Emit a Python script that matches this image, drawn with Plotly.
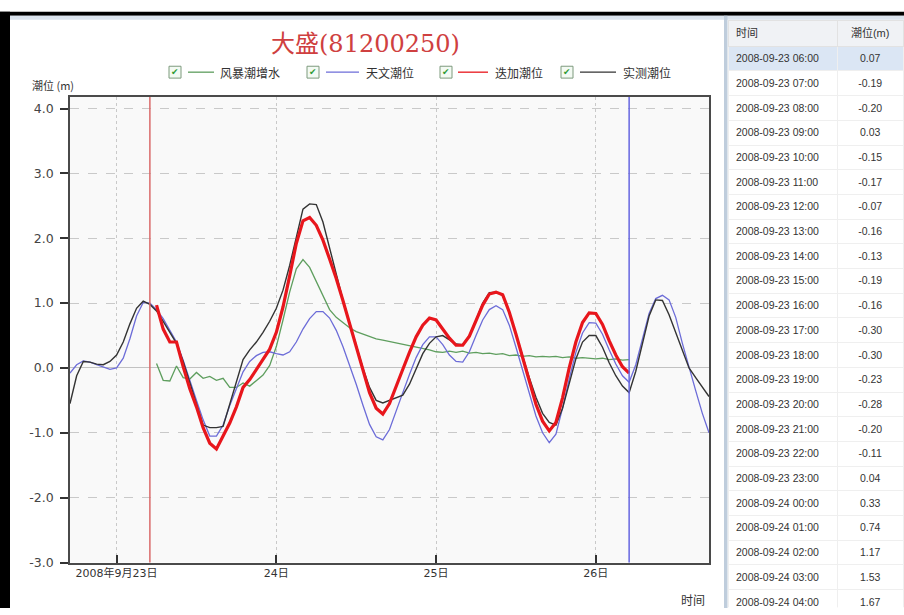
import pandas as pd
import plotly.graph_objects as go

# ---------------- data ----------------
title_text = "大盛(81200250)"
series_names = ["风暴潮增水", "天文潮位", "迭加潮位", "实测潮位"]
series_colors = ["#5e9e5e", "#6c6cd8", "#e8161c", "#333333"]

full_start = "2008-09-22 17:00"      # astronomical & measured series start (hourly)
surge_start = "2008-09-23 06:00"     # storm surge & combined series start (hourly)
period_start = "2008-09-23 05:00"    # red marker line
period_end = "2008-09-26 05:00"      # blue marker line

astro_tide = [
    -0.08, 0.05, 0.11, 0.09, 0.05, 0.01, -0.02,
    0.00, 0.15, 0.45, 0.80, 1.01, 1.00, 0.90, 0.76, 0.58, 0.40, 0.12, -0.20,
    -0.50, -0.80, -1.05, -1.05, -0.88, -0.58, -0.32, -0.06, 0.10, 0.19, 0.24, 0.25,
    0.22, 0.20, 0.25, 0.40, 0.60, 0.76, 0.87, 0.87, 0.77, 0.58, 0.33, 0.05,
    -0.25, -0.57, -0.87, -1.06, -1.11, -0.95, -0.68, -0.38, -0.10, 0.16, 0.36, 0.48,
    0.48, 0.36, 0.20, 0.10, 0.09, 0.25, 0.50, 0.74, 0.90, 0.96, 0.90, 0.66,
    0.32, -0.04, -0.40, -0.74, -1.00, -1.15, -1.02, -0.62, -0.17, 0.24, 0.54, 0.70,
    0.69, 0.52, 0.28, 0.06, -0.12, -0.22, 0.05, 0.45, 0.84, 1.07, 1.12, 1.05,
    0.78, 0.38, 0.00, -0.35, -0.70, -1.00,
]

measured_tide = [
    -0.55, -0.12, 0.10, 0.09, 0.06, 0.05, 0.10,
    0.20, 0.40, 0.68, 0.92, 1.03, 0.98, 0.88, 0.72, 0.55, 0.38, 0.10, -0.22,
    -0.55, -0.88, -0.92, -0.92, -0.90, -0.55, -0.18, 0.13, 0.28, 0.40, 0.55, 0.72,
    0.92, 1.20, 1.58, 2.02, 2.45, 2.53, 2.52, 2.25, 1.85, 1.42, 1.05, 0.70,
    0.34, 0.00, -0.30, -0.50, -0.54, -0.50, -0.46, -0.42, -0.25, 0.00, 0.22, 0.38,
    0.48, 0.50, 0.44, 0.37, 0.36, 0.50, 0.74, 1.00, 1.16, 1.17, 1.12, 0.85,
    0.52, 0.18, -0.15, -0.45, -0.70, -0.84, -0.88, -0.62, -0.22, 0.14, 0.40, 0.50,
    0.50, 0.32, 0.08, -0.12, -0.28, -0.38, -0.05, 0.38, 0.80, 1.05, 1.04, 0.82,
    0.55, 0.27, 0.00, -0.15, -0.30, -0.44,
]

storm_surge = [
    0.07, -0.19, -0.20, 0.03, -0.15, -0.17, -0.07, -0.16, -0.13, -0.19, -0.16, -0.30,
    -0.30, -0.23, -0.28, -0.20, -0.11, 0.04, 0.33, 0.74, 1.17, 1.53, 1.67, 1.55,
    1.33, 1.10, 0.90, 0.78, 0.70, 0.62, 0.56, 0.52, 0.48, 0.45, 0.43, 0.41,
    0.39, 0.37, 0.34, 0.33, 0.30, 0.28, 0.25, 0.24, 0.26, 0.24, 0.26, 0.23,
    0.24, 0.22, 0.23, 0.21, 0.22, 0.19, 0.20, 0.18, 0.19, 0.17, 0.18, 0.17,
    0.18, 0.16, 0.17, 0.15, 0.16, 0.15, 0.14, 0.15, 0.13, 0.14, 0.12, 0.13,
]

combined_tide = [
    0.97, 0.60, 0.40, 0.40, 0.02, -0.32, -0.60, -0.92, -1.16, -1.25, -1.05, -0.85,
    -0.60, -0.30, -0.18, -0.02, 0.13, 0.29, 0.55, 0.94, 1.42, 1.92, 2.27, 2.32,
    2.20, 1.97, 1.68, 1.38, 1.04, 0.68, 0.32, -0.04, -0.38, -0.62, -0.71, -0.55,
    -0.30, -0.02, 0.24, 0.48, 0.66, 0.77, 0.74, 0.60, 0.46, 0.35, 0.35, 0.49,
    0.74, 0.97, 1.14, 1.17, 1.13, 0.86, 0.52, 0.15, -0.20, -0.56, -0.82, -0.97,
    -0.84, -0.46, 0.00, 0.40, 0.70, 0.85, 0.84, 0.67, 0.42, 0.20, 0.02, -0.08,
]

y_ticks = [-3, -2, -1, 0, 1, 2, 3, 4]
y_tick_labels = ["-3.0", "-2.0", "-1.0", "0.0", "1.0", "2.0", "3.0", "4.0"]
x_ticks = ["2008-09-23", "2008-09-24", "2008-09-25", "2008-09-26"]
x_tick_labels = ["2008年9月23日", "24日", "25日", "26日"]
table_rows = 23

# ---------------- figure geometry ----------------
W, H = 904, 615


def px(x):
    return x / W


def py(y):
    return 1 - y / H


full_times = pd.date_range(full_start, periods=len(astro_tide), freq="h")
surge_times = pd.date_range(surge_start, periods=len(storm_surge), freq="h")

fig = go.Figure()

fig.add_trace(go.Scatter(x=surge_times, y=storm_surge, mode="lines", name=series_names[0],
                         line=dict(color=series_colors[0], width=1.3)))
fig.add_trace(go.Scatter(x=full_times, y=astro_tide, mode="lines", name=series_names[1],
                         line=dict(color=series_colors[1], width=1.3)))
fig.add_trace(go.Scatter(x=full_times, y=measured_tide, mode="lines", name=series_names[3],
                         line=dict(color=series_colors[3], width=1.4)))
fig.add_trace(go.Scatter(x=surge_times, y=combined_tide, mode="lines", name=series_names[2],
                         line=dict(color=series_colors[2], width=3.2)))

# table of storm surge values
tbl_times = [t.strftime("%Y-%m-%d\u00a0%H:%M") for t in surge_times[:table_rows]]
tbl_vals = ["%.2f" % v for v in storm_surge[:table_rows]]
row_fill = ["#dbe6f4"] + ["#ffffff"] * (table_rows - 1)
fig.add_trace(go.Table(
    domain=dict(x=[px(728), 1.0], y=[0.0, py(20.5)]),
    columnwidth=[110, 66],
    header=dict(values=["时间", "潮位(m)"], height=26, fill_color="#f0f2f5",
                align=["left", "center"], line=dict(color="#e2e2e2", width=1),
                font=dict(family="Liberation Sans, Noto Sans CJK SC", size=11, color="#333333")),
    cells=dict(values=[tbl_times, tbl_vals], height=24.7,
               fill_color=[row_fill, row_fill], align=["left", "center"],
               line=dict(color="#efefef", width=1),
               font=dict(family="Liberation Sans", size=10.5, color="#333333")),
))

shapes = []
# frame decorations (window border / panel separator)
shapes.append(dict(type="rect", xref="paper", yref="paper", x0=0, x1=px(10), y0=0, y1=py(12),
                   fillcolor="#000000", line=dict(width=0), layer="above"))
shapes.append(dict(type="rect", xref="paper", yref="paper", x0=0, x1=1, y0=py(16), y1=py(12),
                   fillcolor="#000000", line=dict(width=0), layer="above"))
shapes.append(dict(type="rect", xref="paper", yref="paper", x0=px(10), x1=1, y0=py(20), y1=py(16),
                   fillcolor="#dbe4ee", line=dict(width=0), layer="above"))
shapes.append(dict(type="rect", xref="paper", yref="paper", x0=px(724), x1=px(727.5), y0=0, y1=py(16),
                   fillcolor="#bfcddc", line=dict(width=0), layer="above"))

# period marker lines
shapes.append(dict(type="line", xref="x", yref="y domain", x0=period_start, x1=period_start, y0=0, y1=1,
                   line=dict(color="#d96a6a", width=1.5)))
shapes.append(dict(type="line", xref="x", yref="y domain", x0=period_end, x1=period_end, y0=0, y1=1,
                   line=dict(color="#6666e0", width=1.5)))

annotations = []
annotations.append(dict(text=title_text, x=px(365), y=py(45), xref="paper", yref="paper",
                        showarrow=False, xanchor="center", yanchor="middle",
                        font=dict(family="DejaVu Serif, Noto Sans CJK SC", size=24, color="#cf4040")))

# custom legend with check boxes
legend_items = [
    (0, 175, 188, 214, 218),
    (1, 313, 326, 359, 364),
    (2, 446, 458, 488, 493),
    (3, 567, 580, 616, 621),
]
ly = 73
for idx, cbx, lx0, lx1, tx in legend_items:
    shapes.append(dict(type="rect", xref="paper", yref="paper",
                       x0=px(cbx - 6), x1=px(cbx + 6), y0=py(ly + 6), y1=py(ly - 6),
                       fillcolor="#f3faf3", line=dict(color="#7d9a7d", width=1)))
    annotations.append(dict(text="✔", x=px(cbx), y=py(ly), xref="paper", yref="paper",
                            showarrow=False, xanchor="center", yanchor="middle",
                            font=dict(family="DejaVu Sans", size=9, color="#2f9a35")))
    shapes.append(dict(type="line", xref="paper", yref="paper", x0=px(lx0), x1=px(lx1),
                       y0=py(ly), y1=py(ly), line=dict(color=series_colors[idx], width=1.3)))
    annotations.append(dict(text=series_names[idx], x=px(tx), y=py(ly), xref="paper", yref="paper",
                            showarrow=False, xanchor="left", yanchor="middle",
                            font=dict(family="Noto Sans CJK SC", size=12, color="#333333")))

annotations.append(dict(text="潮位 (m)", x=px(30), y=py(86), xref="paper", yref="paper",
                        showarrow=False, xanchor="left", yanchor="middle",
                        font=dict(family="Noto Sans CJK SC", size=11, color="#333333")))
annotations.append(dict(text="时间", x=px(707), y=py(606), xref="paper", yref="paper",
                        showarrow=False, xanchor="right", yanchor="middle",
                        font=dict(family="Noto Sans CJK SC", size=12, color="#333333")))

fig.update_layout(
    width=W, height=H,
    margin=dict(l=0, r=0, t=0, b=0, pad=0),
    paper_bgcolor="#ffffff",
    plot_bgcolor="#f9f9f9",
    showlegend=False,
    font=dict(family="DejaVu Sans, Noto Sans CJK SC", size=12, color="#333333"),
    xaxis=dict(
        type="date", domain=[px(70), px(709)],
        range=["2008-09-22 17:00", "2008-09-26 17:00"],
        tickvals=x_ticks, ticktext=x_tick_labels,
        ticks="inside", ticklen=8, tickwidth=1.5, tickcolor="#333333",
        showline=True, linecolor="#4a4a4a", linewidth=1.5, mirror=True,
        showgrid=True, gridcolor="#c9c9c9", griddash="dot", gridwidth=1,
        zeroline=False,
        tickfont=dict(family="DejaVu Sans, Noto Sans CJK SC", size=11, color="#333333"),
    ),
    yaxis=dict(
        domain=[py(569), py(98)],
        range=[-3.0, 4.18],
        tickvals=y_ticks, ticktext=y_tick_labels,
        ticks="outside", ticklen=8, tickwidth=1.5, tickcolor="#333333",
        ticklabelstandoff=4,
        showline=True, linecolor="#4a4a4a", linewidth=1.5, mirror=True,
        showgrid=True, gridcolor="#c9c9c9", griddash="dash", gridwidth=1,
        zeroline=True, zerolinecolor="#c2c2c2", zerolinewidth=1.2,
        tickfont=dict(family="DejaVu Sans", size=12.5, color="#444444"),
    ),
    shapes=shapes,
    annotations=annotations,
)

fig.write_html("out.html", config={"displayModeBar": False},
               post_script="document.body.style.margin='0px';document.body.style.overflow='hidden';")
